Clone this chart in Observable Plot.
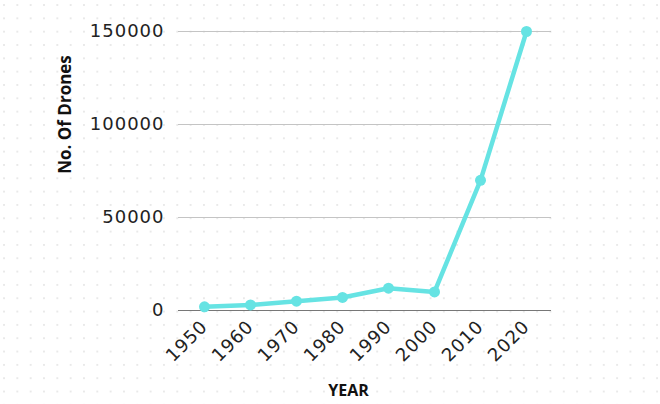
<!DOCTYPE html>
<html>
<head>
<meta charset="utf-8">
<script src="https://cdn.jsdelivr.net/npm/d3@7"></script>
<script src="https://cdn.jsdelivr.net/npm/@observablehq/plot@0.6"></script>
<style>
  html, body { margin: 0; padding: 0; width: 660px; height: 404px; overflow: hidden; background-color: #fff;
    background-image: radial-gradient(circle, #e9e9e9 1px, transparent 1.4px);
    background-size: 13.333px 13.333px; background-position: -2.67px -1.67px; }
  #chart svg { display: block; }
  #chart g[aria-label="y-axis tick label"] text,
  #chart g[aria-label="x-axis tick label"] text { letter-spacing: 1px; }
</style>
</head>
<body>
<div id="chart"></div>
<script>
const years = ["1950", "1960", "1970", "1980", "1990", "2000", "2010", "2020"];
const drones = [2000, 3000, 5000, 7000, 12000, 10000, 70000, 150000];
const yTicks = [0, 50000, 100000, 150000];
const xTitle = "YEAR";
const yTitle = "No. Of Drones";

const data = years.map((y, i) => ({year: y, value: drones[i]}));
const lineColor = "#66e3e3";

const chart = Plot.plot({
  width: 660,
  height: 404,
  marginLeft: 178,
  marginRight: 109,
  marginTop: 31,
  marginBottom: 94,
  style: {fontFamily: "DejaVu Sans", fontSize: "18px", background: "transparent", color: "#222"},
  x: {type: "point", domain: years, padding: 0.5},
  y: {domain: [0, 150000]},
  marks: [
    Plot.gridY(yTicks.filter(d => d > 0), {stroke: "#c4c4c4", strokeOpacity: 1, strokeWidth: 1}),
    Plot.ruleY([0], {stroke: "#777", strokeWidth: 1}),
    Plot.axisY({ticks: yTicks, tickSize: 0, tickPadding: 14, tickFormat: d3.format("d"), label: null, fontSize: 18}),
    Plot.axisX({tickSize: 0, tickPadding: 13, tickRotate: -45, label: null, fontSize: 18}),
    Plot.line(data, {x: "year", y: "value", stroke: lineColor, strokeWidth: 4.5}),
    Plot.dot(data, {x: "year", y: "value", r: 5.5, fill: lineColor}),
    Plot.text([yTitle], {frameAnchor: "top-left", dx: 65 - 178, dy: 114 - 31, rotate: -90, text: d => d,
      textAnchor: "middle", lineAnchor: "middle",
      fontFamily: "Open Sans", fontWeight: "bold", fontSize: 17, fill: "#111"}),
    Plot.text([xTitle], {frameAnchor: "bottom-left", dx: 348 - 178, dy: 80, text: d => d,
      textAnchor: "middle", lineAnchor: "middle",
      fontFamily: "Open Sans", fontWeight: "bold", fontSize: 16, fill: "#111"})
  ]
});
document.getElementById("chart").appendChild(chart);
</script>
</body>
</html>
